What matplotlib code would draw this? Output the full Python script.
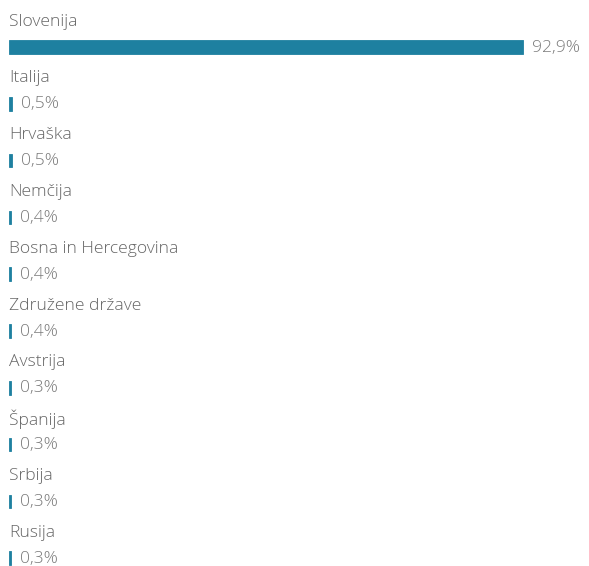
import matplotlib
matplotlib.use("Agg")
import matplotlib.pyplot as plt

countries = ["Slovenija", "Italija", "Hrvaška", "Nemčija", "Bosna in Hercegovina",
             "Združene države", "Avstrija", "Španija", "Srbija", "Rusija"]
values = [92.9, 0.5, 0.5, 0.4, 0.4, 0.4, 0.3, 0.3, 0.3, 0.3]
value_labels = ["92,9%", "0,5%", "0,5%", "0,4%", "0,4%", "0,4%", "0,3%", "0,3%", "0,3%", "0,3%"]

W, H = 589, 566
fig = plt.figure(figsize=(W / 100, H / 100), dpi=100)
left_px = 9
ax = fig.add_axes([left_px / W, 0, (W - left_px) / W, 1])
ax.set_xlim(0, 92.9 * (W - left_px) / 514)
row = 56.8
top = 47
ax.set_ylim((H - top) / row, -top / row)
ax.axis("off")

bar_color = "#1e80a0"
ys = list(range(len(countries)))
ax.barh(ys, values, height=13.5 / row, color=bar_color, align="center",
        edgecolor=bar_color, linewidth=0.6)

font = "Open Sans"
for i, (c, v, lbl) in enumerate(zip(countries, values, value_labels)):
    ax.text(0, i - 25.5 / row, c, ha="left", va="center", fontsize=12.6,
            color="#666666", family=font, fontweight="light")
    ax.annotate(lbl, xy=(v, i), xytext=(6.5, -0.5), textcoords="offset points",
                ha="left", va="center", fontsize=12.6, color="#7a7a7a",
                family=font, fontweight="light")

fig.savefig("out.png", dpi=100, facecolor="white")
